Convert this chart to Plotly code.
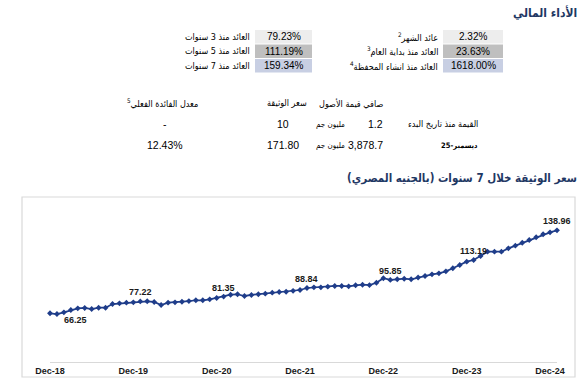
import plotly.graph_objects as go

W, H = 582, 383

# ---------------- data ----------------
tick_labels = ["Dec-18", "Dec-19", "Dec-20", "Dec-21", "Dec-22", "Dec-23", "Dec-24"]
tick_index = [0, 12, 24, 36, 48, 60, 72]

nav_values = [
    66.9, 66.25, 67.7, 69.7, 71.2, 71.5, 70.6, 71.7, 71.7, 74.9, 75.5, 76.1,
    76.4, 77.22, 77.3, 76.7, 74.1, 76.1, 76.4, 76.9, 77.5, 78.2, 78.2, 79.0,
    80.2, 81.35, 83.0, 83.4, 81.9, 82.8, 83.4, 83.9, 84.8, 85.4, 85.6, 86.4,
    87.1, 88.84, 89.4, 89.4, 90.0, 90.6, 90.6, 90.3, 91.2, 91.7, 91.4, 93.4,
    97.3, 95.85, 96.4, 96.9, 96.4, 98.0, 99.3, 100.7, 101.6, 103.3, 106.0, 108.8,
    111.7, 113.19, 116.6, 120.4, 120.4, 120.4, 123.3, 125.6, 128.2, 130.5, 132.9, 135.5,
    137.2, 138.96,
]
label_index = [1, 13, 25, 37, 49, 61, 73]

perf_labels_right = ["عائد الشهر", "العائد منذ بداية العام", "العائد منذ انشاء المحفظة"]
perf_notes_right = ["2", "3", "4"]
perf_values_right = ["2.32%", "23.63%", "1618.00%"]
perf_labels_left = ["العائد منذ 3 سنوات", "العائد منذ 5 سنوات", "العائد منذ 7 سنوات"]
perf_values_left = ["79.23%", "111.19%", "159.34%"]
row_colors = ["#EDEDED", "#BFBFBF", "#C8CFE3"]

nav_header = ["صافي قيمة الأصول", "سعر الوثيقة", "معدل الفائدة الفعلي"]
row_names = ["القيمة منذ تاريخ البدء", "ديسمبر-25"]
nav_amounts = ["1.2", "3,878.7"]
unit_text = "مليون جم"
unit_prices = ["10", "171.80"]
yield_rates = ["-", "12.43%"]

title_main = "الأداء المالي"
title_chart = "سعر الوثيقة خلال 7 سنوات (بالجنيه المصري)"

NAVY = "#1F3864"
LINE = "#1F3D8A"
AR = "DejaVu Sans Condensed, DejaVu Sans"
LAT = "Liberation Sans, DejaVu Sans"

# ---------------- figure ----------------
fig = go.Figure()
x_idx = list(range(len(nav_values)))
fig.add_trace(go.Scatter(
    x=x_idx, y=nav_values, mode="lines+markers",
    line=dict(color=LINE, width=1.75),
    marker=dict(symbol="diamond", size=4.5, color=LINE),
    cliponaxis=False, hoverinfo="skip", showlegend=False,
))

def px(x):
    return x / W

def py(y):
    return 1 - y / H

annotations = []

def text(x, y, s, size=9, family=AR, color="#000000", bold=False, anchor="right"):
    if bold:
        s = "<b>" + s + "</b>"
    annotations.append(dict(
        x=px(x), y=py(y), xref="paper", yref="paper", text=s, showarrow=False,
        xanchor=anchor, yanchor="middle",
        font=dict(size=size, family=family, color=color),
    ))

# titles
text(579, 12, title_main, size=12, color=NAVY, bold=True)
text(579, 178, title_chart, size=11.5, color=NAVY, bold=True)

# performance table
shapes = []
row_tops = [30, 44.5, 59]
row_h = 13.5
for i in range(3):
    y0 = row_tops[i]
    yc = y0 + row_h / 2
    for (bx0, bx1) in [(443, 503), (255, 312)]:
        shapes.append(dict(type="rect", xref="paper", yref="paper",
                           x0=px(bx0), x1=px(bx1), y0=py(y0 + row_h), y1=py(y0),
                           fillcolor=row_colors[i], line=dict(width=0), layer="below"))
    text(473, yc, perf_values_right[i], size=10, family=LAT, anchor="center")
    text(283.5, yc, perf_values_left[i], size=10, family=LAT, anchor="center")
    text(440, yc, perf_labels_right[i] + "<sup>" + perf_notes_right[i] + "</sup>", size=9)
    text(252, yc, perf_labels_left[i], size=9)

# NAV table
text(385, 103, nav_header[0], size=9)
text(309, 103, nav_header[1], size=9)
text(200, 103, nav_header[2] + "<sup>5</sup>", size=9)
row_y = [124, 145]
for i in range(2):
    yc = row_y[i]
    text(480, yc, row_names[i], size=9 if i == 0 else 7.5, bold=(i == 1))
    text(385, yc, nav_amounts[i], size=10.5, family=LAT)
    text(347, yc, unit_text, size=8)
    text(283, yc, unit_prices[i], size=10.5, family=LAT, anchor="center")
    text(165, yc, yield_rates[i], size=10.5, family=LAT, anchor="center")

# chart frame
shapes.append(dict(type="rect", xref="paper", yref="paper",
                   x0=px(22), x1=px(575), y0=py(377), y1=py(197),
                   line=dict(color="#D9D9D9", width=1.2), fillcolor="rgba(0,0,0,0)", layer="below"))

# data labels
label_shift = {1: (19, -6)}
for k, i in enumerate(label_index):
    dx, dy = label_shift.get(i, (0, 9))
    annotations.append(dict(
        x=i, y=nav_values[i], xref="x", yref="y",
        text="<b>" + f"{nav_values[i]:.2f}" + "</b>", showarrow=False,
        xanchor="center", yanchor="middle", xshift=dx, yshift=dy,
        font=dict(size=9, family=LAT, color="#1A1A1A"),
    ))

fig.update_layout(
    width=W, height=H, margin=dict(l=0, r=0, t=0, b=0, pad=0),
    paper_bgcolor="white", plot_bgcolor="white",
    annotations=annotations, shapes=shapes,
    xaxis=dict(domain=[px(50), px(557)], range=[0, 73], showgrid=False, zeroline=False,
               automargin=False,
               showline=True, linecolor="#D9D9D9", linewidth=1.2,
               tickmode="array", tickvals=tick_index, ticktext=["<b>" + t + "</b>" for t in tick_labels],
               ticks="", tickfont=dict(size=9, family=LAT, color="#1A1A1A")),
    yaxis=dict(domain=[py(362), py(200)], range=[24.55, 165.3], showgrid=False,
               automargin=False,
               zeroline=False, showticklabels=False, showline=False),
)

fig.write_html("out.html", config={"displayModeBar": False},
               post_script="document.body.style.margin='0';document.body.style.overflow='hidden';")
